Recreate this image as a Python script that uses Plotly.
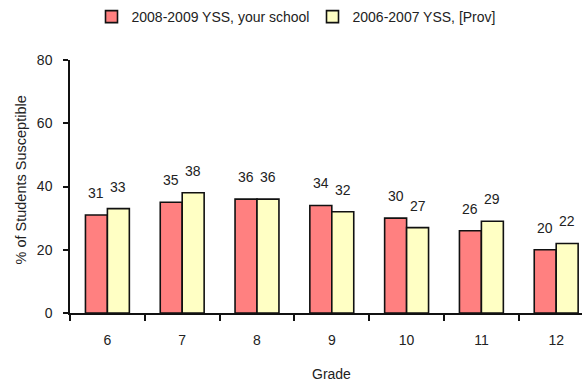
import plotly.graph_objects as go

grades = ["6", "7", "8", "9", "10", "11", "12"]
school_0809 = [31, 35, 36, 34, 30, 26, 20]
prov_0607 = [33, 38, 36, 32, 27, 29, 22]
series_names = ["2008-2009 YSS, your school", "2006-2007 YSS, [Prov]"]
y_ticks = [0, 20, 40, 60, 80]

FONT = "Liberation Sans, Arial, sans-serif"
BARGAP = 0.413
half = (1 - BARGAP) / 4  # offset of each bar centre from category centre

fig = go.Figure()
fig.add_trace(go.Bar(x=grades, y=school_0809, name=series_names[0],
                     marker=dict(color="#FF8080", line=dict(color="#111111", width=1.6))))
fig.add_trace(go.Bar(x=grades, y=prov_0607, name=series_names[1],
                     marker=dict(color="#FFFFC4", line=dict(color="#111111", width=1.6))))

annotations = []
for i, (a, b) in enumerate(zip(school_0809, prov_0607)):
    annotations.append(dict(x=i - half, y=a, xref="x", yref="y", text=str(a), showarrow=False,
                            yanchor="middle", yshift=22, font=dict(size=14, color="#222")))
    annotations.append(dict(x=i + half, y=b, xref="x", yref="y", text=str(b), showarrow=False,
                            yanchor="middle", yshift=22, font=dict(size=14, color="#222")))
annotations.append(dict(x=3, y=0, xref="x", yref="paper", text="Grade", showarrow=False,
                        yanchor="middle", yshift=-61, font=dict(size=14, color="#222")))
annotations.append(dict(x=0, y=0.5, xref="paper", yref="paper", text="% of Students Susceptible",
                        showarrow=False, textangle=-90, xanchor="center", yanchor="middle",
                        xshift=-50, yshift=6, font=dict(size=14.5, color="#222")))

fig.update_layout(
    width=582, height=381,
    margin=dict(l=70, r=0, t=60, b=68),
    paper_bgcolor="white", plot_bgcolor="white",
    barmode="group", bargap=BARGAP, bargroupgap=0,
    font=dict(family=FONT, size=14, color="#222"),
    showlegend=True,
    legend=dict(orientation="h", x=0.042, xanchor="left", y=1.17, yanchor="middle",
                font=dict(size=14), itemwidth=30, entrywidth=176, traceorder="normal"),
    annotations=annotations,
)
fig.update_xaxes(type="category", range=[-0.5, 6.345], showline=True, linecolor="#111",
                 linewidth=1.5, ticks="outside", tickson="boundaries", ticklen=6,
                 tickcolor="#111", tickwidth=1.5, ticklabelstandoff=13, showgrid=False,
                 tickfont=dict(size=14))
fig.update_yaxes(range=[0, 80], tickvals=y_ticks, showline=True, linecolor="#111", linewidth=1.5,
                 ticks="outside", ticklen=5, tickcolor="#111", tickwidth=1.5,
                 showgrid=False, zeroline=False, ticklabelstandoff=8, tickfont=dict(size=14))

fig.write_html("out.html")
